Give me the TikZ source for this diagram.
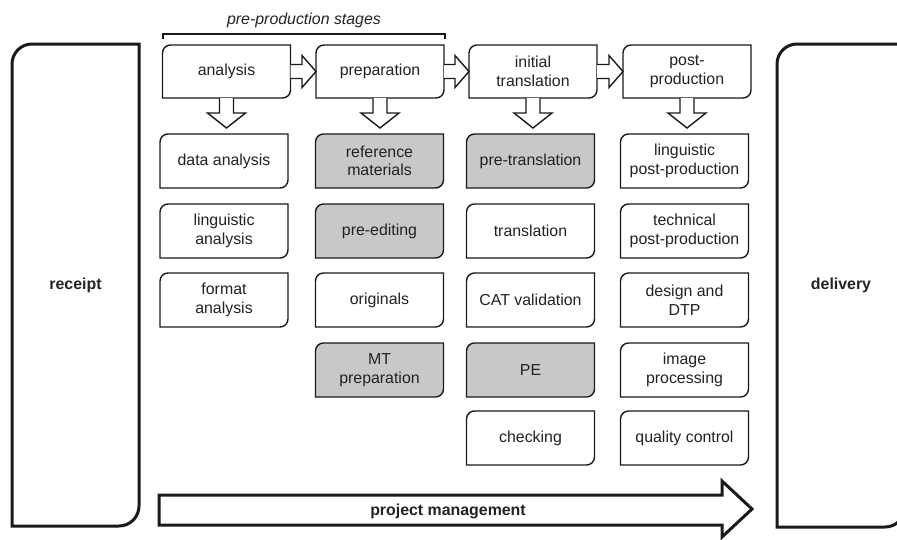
\documentclass[tikz,border=0pt]{standalone}
\usepackage{fontspec}
\setmainfont{Liberation Sans}
\usetikzlibrary{backgrounds,calc}
\definecolor{lineC}{RGB}{26,26,26}
\definecolor{textC}{RGB}{34,34,34}
\definecolor{greyC}{RGB}{200,200,200}
\newcommand\mybox[6]{%
  \node[boxnode, minimum height=#5pt] (#1) at (#2,#3) {#6};
  \begin{scope}[on background layer]
    \draw[boxline, fill=#4] (#1.south west) -- ([yshift=-8pt]#1.north west)
      arc[start angle=180, end angle=90, radius=8pt] -- (#1.north east)
      -- ([yshift=8pt]#1.south east)
      arc[start angle=0, end angle=-90, radius=8pt] -- cycle;
  \end{scope}}
\newcommand\rarr[2]{%
  \draw[arrowline] ([yshift=7pt]#1.east) -- ([xshift=-14pt,yshift=7pt]#2.west)
    -- ([xshift=-14pt,yshift=16pt]#2.west) -- (#2.west)
    -- ([xshift=-14pt,yshift=-16pt]#2.west) -- ([xshift=-14pt,yshift=-7pt]#2.west)
    -- ([yshift=-7pt]#1.east);}
\newcommand\darr[1]{%
  \draw[arrowline] ([xshift=-7pt]#1.south) -- ++(0,-15pt) -- ++(-12pt,0)
    -- ++(19pt,-15pt) -- ++(19pt,15pt) -- ++(-12pt,0) -- ([xshift=7pt]#1.south);}
\begin{document}
\begin{tikzpicture}[x=1pt,y=-1pt,
  every node/.style={text=textC},
  boxnode/.style={minimum width=128pt, inner sep=0pt, outer sep=0pt, align=center,
    font=\fontsize{15.9}{18.5}\selectfont},
  boxline/.style={draw=lineC, line width=1.4pt},
  arrowline/.style={draw=lineC, line width=1.4pt, fill=white, line join=miter},
  bigline/.style={draw=lineC, line width=3pt},
  bigtext/.style={font=\fontsize{15.9}{18.5}\selectfont\bfseries}]
\useasboundingbox (0,0) rectangle (897,539);
\clip (0,0) rectangle (897,539);

% receipt and delivery
\node[bigtext, minimum width=127pt, minimum height=482pt, inner sep=0pt, outer sep=0pt] (receipt) at (75.5,285) {receipt};
\draw[bigline] (receipt.south west) -- ([yshift=-20pt]receipt.north west)
  arc[start angle=180, end angle=90, radius=20pt] -- (receipt.north east)
  -- ([yshift=20pt]receipt.south east) arc[start angle=0, end angle=-90, radius=20pt] -- cycle;
\node[bigtext, minimum width=128pt, minimum height=483pt, inner sep=0pt, outer sep=0pt] (delivery) at (841,285.5) {delivery};
\draw[bigline] (delivery.south west) -- ([yshift=-20pt]delivery.north west)
  arc[start angle=180, end angle=90, radius=20pt] -- (delivery.north east)
  -- ([yshift=20pt]delivery.south east) arc[start angle=0, end angle=-90, radius=20pt] -- cycle;

% pre-production brace
\node[font=\fontsize{15.9}{18.5}\selectfont\itshape] (stages) at (304,20) {pre-production stages};
\coordinate (bl) at (163,34);
\coordinate (br) at (445,34);
\draw[draw=lineC, line width=1.3pt] ([yshift=-5pt]bl) -- (bl) -- (br) -- ([yshift=-5pt]br);

% top row
\mybox{analysis}{226.5}{71.5}{white}{53}{analysis}
\mybox{preparation}{380}{71.5}{white}{53}{preparation}
\mybox{initial}{533}{71.5}{white}{53}{initial\\translation}
\mybox{post}{687}{71.5}{white}{53}{post-\\production}
\rarr{analysis}{preparation}
\rarr{preparation}{initial}
\rarr{initial}{post}
\darr{analysis}
\darr{preparation}
\darr{initial}
\darr{post}

% column 1
\mybox{dataan}{224}{161}{white}{54}{data analysis}
\mybox{lingan}{224}{231}{white}{54}{linguistic\\analysis}
\mybox{forman}{224}{300}{white}{54}{format\\analysis}
% column 2
\mybox{refmat}{379.5}{161}{greyC}{54}{reference\\materials}
\mybox{preedit}{379.5}{231}{greyC}{54}{pre-editing}
\mybox{orig}{379.5}{300}{white}{54}{originals}
\mybox{mtprep}{379.5}{370}{greyC}{54}{MT\\preparation}
% column 3
\mybox{pretrans}{530.5}{161}{greyC}{54}{pre-translation}
\mybox{trans}{530.5}{231}{white}{54}{translation}
\mybox{catval}{530.5}{300}{white}{54}{CAT validation}
\mybox{pe}{530.5}{370}{greyC}{54}{PE}
\mybox{check}{530.5}{438}{white}{54}{checking}
% column 4
\mybox{lingpp}{684.5}{161}{white}{54}{linguistic\\post-production}
\mybox{techpp}{684.5}{231}{white}{54}{technical\\post-production}
\mybox{design}{684.5}{300}{white}{54}{design and\\DTP}
\mybox{image}{684.5}{370}{white}{54}{image\\processing}
\mybox{qc}{684.5}{438}{white}{54}{quality control}

% project management arrow
\coordinate (pmstart) at (159,510);
\coordinate (pmtip) at (752,509);
\draw[bigline, line join=miter, fill=white] ([yshift=15pt]pmstart) -- ([yshift=15pt]pmstart -| 722,0)
  -- (722,481) -- (pmtip) -- (722,537) -- ([yshift=-15pt]pmstart -| 722,0)
  -- ([yshift=-15pt]pmstart) -- cycle;
\node[bigtext] (pm) at (448,511) {project management};
\end{tikzpicture}
\end{document}
